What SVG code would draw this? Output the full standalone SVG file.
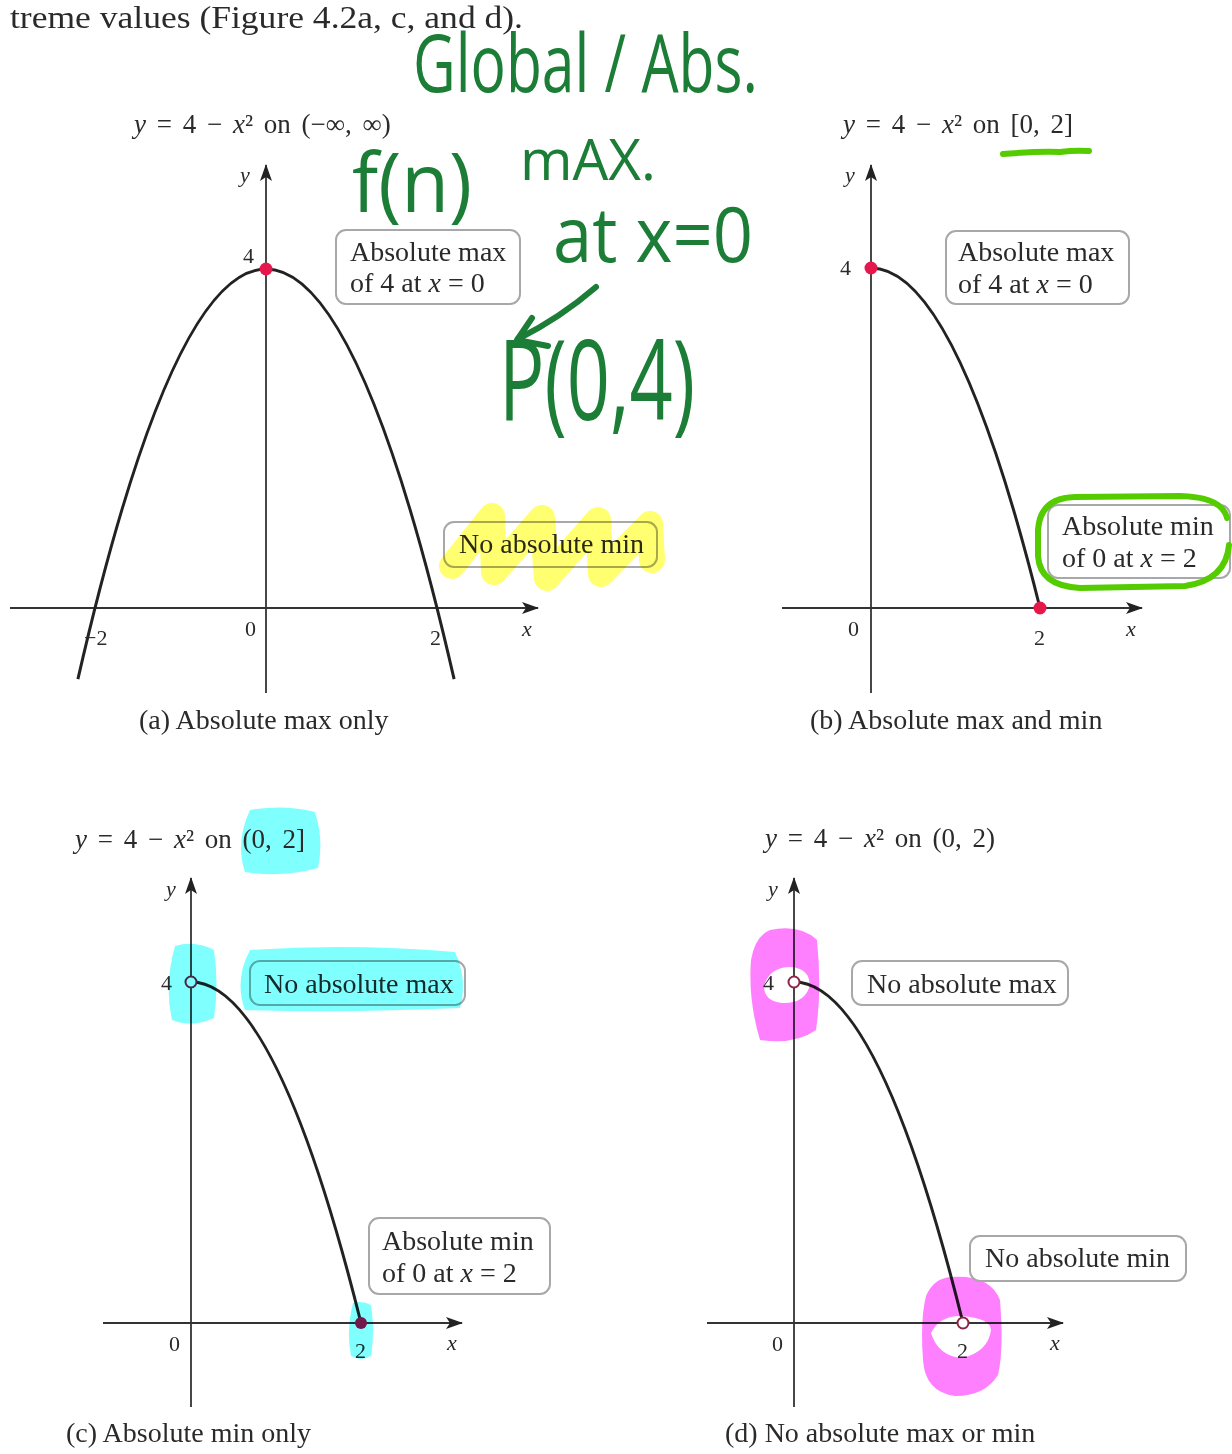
<svg xmlns="http://www.w3.org/2000/svg" width="1232" height="1454" viewBox="0 0 1232 1454">
<defs>
<marker id="ah" markerUnits="userSpaceOnUse" markerWidth="18" markerHeight="12" refX="16" refY="6" orient="auto">
<path d="M0,0 L17,6 L0,12 L4,6 Z" fill="#222"/>
</marker>
<style>
.bk{font-family:"Liberation Serif","Times New Roman",serif;fill:#2a2a2a}
.t28{font-size:28px}
.ttl{font-size:27px;word-spacing:4px}
.num{font-size:22px}
.it{font-style:italic}
.ax{stroke:#333;stroke-width:1.8;fill:none}
.axa{stroke:#333;stroke-width:1.8;fill:none;marker-end:url(#ah)}
.cv{stroke:#222;stroke-width:3;fill:none}
.box{fill:#fff;stroke:#a8a8a8;stroke-width:2}
.dot{fill:#e5174c}
.open{fill:#fff;stroke:#8c2545;stroke-width:2}
.hw{font-family:"Open Sans","Liberation Sans",sans-serif;font-weight:400;fill:#1b7d36}
.cy{fill:#80ffff;mix-blend-mode:multiply}
.mg{fill:#ff80ff;mix-blend-mode:multiply;fill-rule:evenodd}
.yl{fill:none;stroke:#ffff70;stroke-width:26;stroke-linejoin:round;stroke-linecap:round;mix-blend-mode:multiply}
.lime{fill:none;stroke:#55cc00;stroke-width:6;stroke-linecap:round}
</style>
</defs>
<rect width="1232" height="1454" fill="#fff"/>

<text id="header" class="bk" x="10" y="28" font-size="32" textLength="513" lengthAdjust="spacingAndGlyphs">treme values (Figure 4.2a, c, and d).</text>

<!-- Panel (a) -->
<g id="panel-a">
<text class="bk ttl" x="134" y="133" word-spacing="5.5"><tspan class="it">y</tspan> = 4 − <tspan class="it">x</tspan>² on (−∞, ∞)</text>
<line class="ax" x1="266" y1="693" x2="266" y2="300"/>
<line class="axa" x1="266" y1="300" x2="266" y2="165"/>
<line class="axa" x1="10" y1="608" x2="538" y2="608"/>
<path class="cv" d="M77.9,679.2 Q266,-141.2 454.1,679.2"/>
<circle class="dot" cx="266" cy="269" r="6.5"/>
<text class="bk num it" x="240" y="182">y</text>
<text class="bk num" x="243" y="263">4</text>
<text class="bk num" x="245" y="636">0</text>
<text class="bk num" x="84" y="645">−2</text>
<text class="bk num" x="430" y="645">2</text>
<text class="bk num it" x="522" y="636">x</text>
<text class="bk t28" x="139" y="729">(a) Absolute max only</text>
</g>
<g id="box-a-max">
<rect class="box" x="336" y="230" width="184" height="74" rx="10"/>
<text class="bk t28" x="350" y="261">Absolute max</text>
<text class="bk t28" x="350" y="292">of 4 at <tspan class="it">x</tspan> = 0</text>
</g>
<g id="box-a-min">
<rect class="box" x="444" y="522" width="213" height="45" rx="10"/>
<text class="bk t28" x="459" y="553">No absolute min</text>
<polyline class="yl" points="452,566 492,516 494,572 542,518 547,578 598,520 601,574 650,524 652,560"/>
</g>

<!-- Panel (b) -->
<g id="panel-b">
<text class="bk ttl" x="843" y="133"><tspan class="it">y</tspan> = 4 − <tspan class="it">x</tspan>² on [0, 2]</text>
<path class="lime" d="M1003,154 Q1040,151 1060,152 Q1075,150 1089,151"/>
<line class="ax" x1="871" y1="693" x2="871" y2="300"/>
<line class="axa" x1="871" y1="300" x2="871" y2="165"/>
<line class="axa" x1="782" y1="608" x2="1142" y2="608"/>
<line class="ax" x1="865" y1="268" x2="871" y2="268"/>
<path class="cv" d="M871,268 Q955.5,268 1040,608"/>
<circle class="dot" cx="871" cy="268" r="6.5"/>
<circle class="dot" cx="1040" cy="608" r="6.5"/>
<text class="bk num it" x="845" y="182">y</text>
<text class="bk num" x="840" y="275">4</text>
<text class="bk num" x="848" y="636">0</text>
<text class="bk num" x="1034" y="645">2</text>
<text class="bk num it" x="1126" y="636">x</text>
<text class="bk t28" x="810" y="729">(b) Absolute max and min</text>
</g>
<g id="box-b-max">
<rect class="box" x="946" y="231" width="183" height="73" rx="10"/>
<text class="bk t28" x="958" y="261">Absolute max</text>
<text class="bk t28" x="958" y="293">of 4 at <tspan class="it">x</tspan> = 0</text>
</g>
<g id="box-b-min">
<rect class="box" x="1048" y="505" width="182" height="73" rx="10"/>
<text class="bk t28" x="1062" y="535">Absolute min</text>
<text class="bk t28" x="1062" y="567">of 0 at <tspan class="it">x</tspan> = 2</text>
<path class="lime" d="M1227,518 Q1222,497 1180,496 L1075,497 Q1040,498 1038,530 L1038,556 Q1040,586 1080,588 L1185,586 Q1226,580 1229,545"/>
</g>

<!-- Panel (c) -->
<g id="panel-c">
<path class="cy" d="M250,810 Q285,804 315,812 Q324,840 318,868 Q280,878 245,872 Q235,842 250,810 Z"/>
<text class="bk ttl" x="75" y="848"><tspan class="it">y</tspan> = 4 − <tspan class="it">x</tspan>² on (0, 2]</text>
<line class="ax" x1="191" y1="1407" x2="191" y2="1000"/>
<line class="axa" x1="191" y1="1000" x2="191" y2="878"/>
<line class="axa" x1="103" y1="1323" x2="462" y2="1323"/>
<path class="cv" d="M191,982 Q276,982 361,1323"/>
<circle class="open" cx="191" cy="982" r="5.5"/>
<circle class="dot" cx="361" cy="1323" r="6"/>
<text class="bk num it" x="166" y="896">y</text>
<text class="bk num" x="161" y="990">4</text>
<text class="bk num" x="169" y="1351">0</text>
<text class="bk num" x="355" y="1358">2</text>
<text class="bk num it" x="447" y="1350">x</text>
<text class="bk t28" x="66" y="1442">(c) Absolute min only</text>
<path class="cy" d="M175,946 Q195,940 214,950 Q219,985 214,1018 Q192,1028 172,1020 Q164,985 175,946 Z"/>
<path class="cy" d="M353,1303 Q362,1300 371,1305 Q375,1330 371,1356 Q361,1362 351,1356 Q346,1330 353,1303 Z"/>
</g>
<g id="box-c-max">
<rect class="box" x="250" y="961" width="215" height="44" rx="10"/>
<text class="bk t28" x="264" y="993">No absolute max</text>
<path class="cy" d="M250,950 Q350,943 455,952 Q468,980 460,1008 Q350,1013 245,1010 Q234,980 250,950 Z"/>
</g>
<g id="box-c-min">
<rect class="box" x="369" y="1218" width="181" height="76" rx="10"/>
<text class="bk t28" x="382" y="1250">Absolute min</text>
<text class="bk t28" x="382" y="1282">of 0 at <tspan class="it">x</tspan> = 2</text>
</g>

<!-- Panel (d) -->
<g id="panel-d">
<text class="bk ttl" x="765" y="847"><tspan class="it">y</tspan> = 4 − <tspan class="it">x</tspan>² on (0, 2)</text>
<line class="ax" x1="794" y1="1407" x2="794" y2="1000"/>
<line class="axa" x1="794" y1="1000" x2="794" y2="878"/>
<line class="axa" x1="707" y1="1323" x2="1063" y2="1323"/>
<path class="cv" d="M794,982 Q878.5,982 963,1323"/>
<circle class="open" cx="794" cy="982" r="5.5"/>
<circle class="open" cx="963" cy="1323" r="5.5"/>
<text class="bk num it" x="768" y="896">y</text>
<text class="bk num" x="763" y="990">4</text>
<text class="bk num" x="772" y="1351">0</text>
<text class="bk num" x="957" y="1358">2</text>
<text class="bk num it" x="1050" y="1350">x</text>
<text class="bk t28" x="725" y="1442">(d) No absolute max or min</text>
<path class="mg" d="M770,930 Q800,924 817,940 Q822,990 816,1030 Q795,1045 760,1040 Q748,1000 751,960 Q755,936 770,930 Z M764,986 Q770,966 792,967 Q812,970 809,988 Q803,1004 782,1003 Q764,1001 764,986 Z"/>
<path class="mg" d="M950,1277 Q990,1274 1000,1300 Q1004,1350 998,1375 Q985,1396 955,1396 Q925,1392 923,1360 Q920,1320 926,1296 Q933,1279 950,1277 Z M931,1333 Q940,1315 962,1316 Q990,1318 991,1330 Q988,1352 962,1358 Q938,1356 931,1333 Z"/>
</g>
<g id="box-d-max">
<rect class="box" x="852" y="961" width="216" height="44" rx="10"/>
<text class="bk t28" x="867" y="993">No absolute max</text>
</g>
<g id="box-d-min">
<rect class="box" x="970" y="1236" width="216" height="45" rx="10"/>
<text class="bk t28" x="985" y="1267">No absolute min</text>
</g>

<!-- Handwritten annotations -->
<g id="note-global">
<text class="hw" x="413" y="92" font-size="80" textLength="345" lengthAdjust="spacingAndGlyphs">Global / Abs.</text>
</g>
<g id="note-fmax">
<text class="hw" x="352" y="212" font-size="82" textLength="120" lengthAdjust="spacingAndGlyphs">f(n)</text>
<text class="hw" x="520" y="180" font-size="56" textLength="136" lengthAdjust="spacingAndGlyphs">mAX.</text>
<text class="hw" x="553" y="262" font-size="76" textLength="200" lengthAdjust="spacingAndGlyphs">at x=0</text>
</g>
<g id="note-point">
<text class="hw" x="499" y="420" font-size="112" textLength="196" lengthAdjust="spacingAndGlyphs">P(0,4)</text>
</g>
<g id="connectors">
<path d="M596,287 Q560,318 518,339" fill="none" stroke="#1b7d36" stroke-width="6" stroke-linecap="round"/>
<path d="M532,318 L517,340 L548,346" fill="none" stroke="#1b7d36" stroke-width="6" stroke-linecap="round" stroke-linejoin="round"/>
</g>
</svg>
